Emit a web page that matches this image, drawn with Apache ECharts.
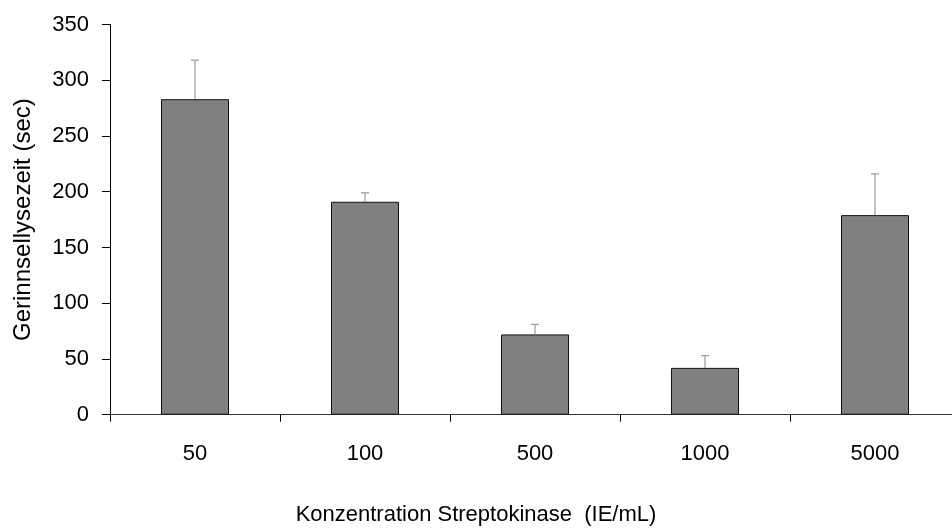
<!DOCTYPE html>
<html>
<head>
<meta charset="utf-8">
<script src="https://cdn.jsdelivr.net/npm/echarts@6/dist/echarts.min.js"></script>
<style>
  html, body { margin: 0; padding: 0; background: #fff; }
  #chart { width: 952px; height: 530px; }
</style>
</head>
<body>
<div id="chart"></div>
<script>
// Streptokinase concentration (IE/mL) vs. clot lysis time (sec), mean + SD
const concentrations = ['50', '100', '500', '1000', '5000'];
const lysisTime = [283, 191, 72, 42, 179];
const lysisSD = [35, 8, 9, 11, 37];
const yTicks = { min: 0, max: 350, interval: 50 };

const font = 'Liberation Sans, Arial, sans-serif';
const chart = echarts.init(document.getElementById('chart'), null, { renderer: 'canvas' });

chart.setOption({
  animation: false,
  backgroundColor: '#ffffff',
  textStyle: { fontFamily: font },
  title: {
    text: 'Konzentration Streptokinase  (IE/mL)',
    left: 'center',
    top: 504,
    padding: 0,
    textStyle: { fontFamily: font, fontSize: 22, fontWeight: 'normal', color: '#000' }
  },
  // the last category runs a little past the right edge of the canvas
  grid: {
    left: 110, top: 24.5, width: 850, height: 390.2,
    containLabel: false, outerBoundsMode: 'none'
  },
  xAxis: {
    type: 'category',
    data: concentrations,
    axisLine: { lineStyle: { color: '#333', width: 1 } },
    axisTick: { show: true, length: 7, inside: false, lineStyle: { color: '#000' } },
    axisLabel: { fontFamily: font, fontSize: 22, color: '#000', margin: 28 },
    splitLine: { show: false }
  },
  yAxis: {
    type: 'value',
    min: yTicks.min,
    max: yTicks.max,
    interval: yTicks.interval,
    name: 'Gerinnsellysezeit (sec)',
    nameLocation: 'middle',
    nameGap: 75,
    nameTextStyle: { fontFamily: font, fontSize: 24, color: '#000' },
    axisLine: { show: true, lineStyle: { color: '#000', width: 1 } },
    axisTick: { show: true, length: 8, lineStyle: { color: '#000' } },
    axisLabel: { fontFamily: font, fontSize: 22, color: '#000', margin: 21 },
    splitLine: { show: false }
  },
  series: [
    {
      type: 'bar',
      data: lysisTime,
      barWidth: '40%',
      itemStyle: { color: '#808080', borderColor: '#111', borderWidth: 1 },
      z: 2
    },
    {
      // upper error whiskers
      type: 'custom',
      z: 3,
      data: lysisTime.map((v, i) => [i, v, v + lysisSD[i]]),
      renderItem: function (params, api) {
        const base = api.coord([api.value(0), api.value(1)]);
        const top = api.coord([api.value(0), api.value(2)]);
        const cap = 4;
        return {
          type: 'group',
          children: [
            { type: 'line', shape: { x1: base[0], y1: base[1], x2: top[0], y2: top[1] },
              style: { stroke: '#999', lineWidth: 1.2 } },
            { type: 'line', shape: { x1: top[0] - cap, y1: top[1], x2: top[0] + cap, y2: top[1] },
              style: { stroke: '#999', lineWidth: 1.2 } }
          ]
        };
      }
    }
  ]
});
</script>
</body>
</html>
